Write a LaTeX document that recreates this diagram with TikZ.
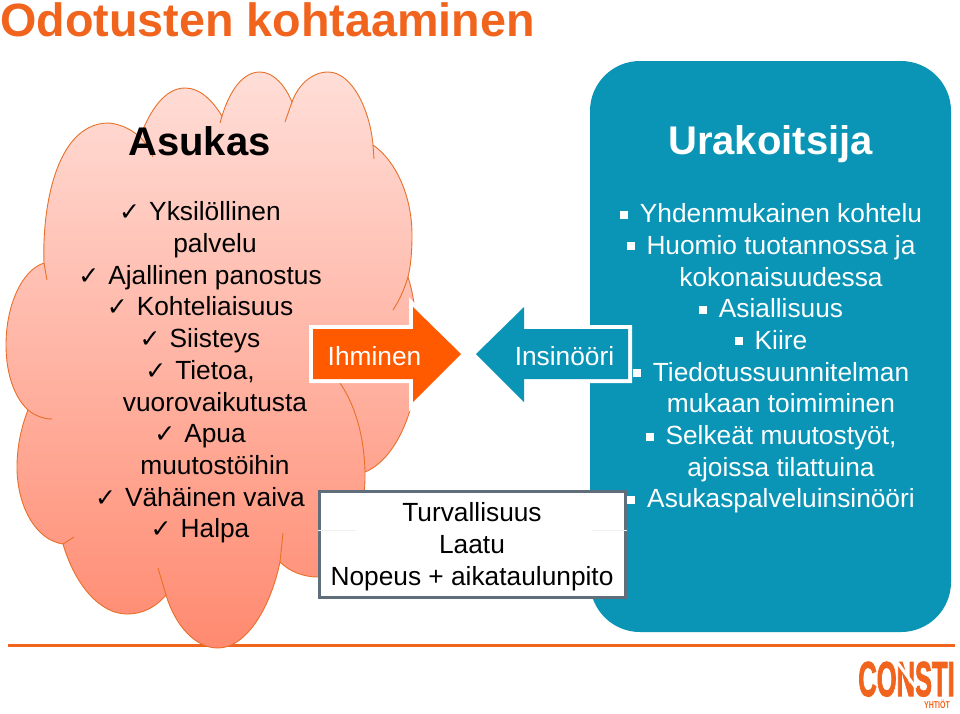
\documentclass[tikz,border=0pt]{standalone}
\usepackage{fontspec}
\setmainfont{Liberation Sans}
\newfontfamily\symfont{DejaVu Sans}
\newfontfamily\logofont[FakeBold=2.5]{Liberation Sans Bold}
\usepackage{xcolor}
\definecolor{rust}{HTML}{F0641E}
\definecolor{flame}{HTML}{FF5A00}
\definecolor{petrol}{HTML}{0A94B6}
\definecolor{slate}{HTML}{5F6E7A}
\definecolor{cloudtop}{HTML}{FFDED8}
\definecolor{cloudbot}{HTML}{FF8A70}
\definecolor{cloudline}{HTML}{E8702A}
\newcommand{\chk}{\makebox[30pt][l]{\symfont\fontsize{25}{25}\selectfont ✓}}
\newcommand{\bul}{\makebox[20pt][l]{\rule[4pt]{8pt}{8pt}}}
\tikzset{
  bodytext/.style={font=\fontsize{26.3}{31.7}\selectfont,align=center,inner sep=0pt},
  headtext/.style={font=\fontsize{40}{44}\selectfont\bfseries,inner sep=0pt},
  cloudedge/.style={draw=cloudline,line width=0.9pt},
  callout/.style={draw=white,line width=8pt,line join=miter},
  framebox/.style={draw=slate,fill=white,line width=3pt,minimum width=306pt,minimum height=106pt,inner sep=0pt}
}
\begin{document}
\begin{tikzpicture}[x=1pt,y=-1pt]
  \useasboundingbox (0,0) rectangle (960,713);
  \node[font=\fontsize{46.7}{50}\selectfont\bfseries,text=rust,anchor=base west,inner sep=0pt] (title) at (0,36) {Odotusten kohtaaminen};
  \fill[rust] (8,643.5) rectangle (955,646.5);
  % blue panel
  \node[fill=petrol,rounded corners=50pt,minimum width=361pt,minimum height=571pt,inner sep=0pt] (panel) at (770.5,346.5) {};
  % cloud outline
  \path[cloudedge,top color=cloudtop,bottom color=cloudbot,middle color=cloudtop!50!cloudbot]
    (28,410) .. controls (15,398) and (6,375) .. (6,345) .. controls (6,305) and (22,270) .. (44,263)
    .. controls (42,210) and (55,125) .. (107,123) .. controls (117,123) and (130,128) .. (140,137)
    .. controls (150,110) and (165,88) .. (185,88) .. controls (200,88) and (212,100) .. (222,116)
    .. controls (230,90) and (243,72) .. (260,72) .. controls (273,72) and (285,85) .. (292,102)
    .. controls (298,85) and (312,72) .. (328,72) .. controls (352,72) and (370,110) .. (373,145)
    .. controls (395,160) and (412,195) .. (412,235) .. controls (412,250) and (411,265) .. (408,277)
    .. controls (414,295) and (418,325) .. (418,355) .. controls (418,410) and (395,460) .. (365,472)
    .. controls (366,510) and (350,577) .. (318,577) .. controls (304,577) and (290,572) .. (280,562)
    .. controls (270,610) and (245,648) .. (218,648) .. controls (195,648) and (175,625) .. (166,595)
    .. controls (155,608) and (142,614) .. (127,614) .. controls (100,614) and (75,585) .. (63,544)
    .. controls (35,540) and (17,505) .. (17,467) .. controls (17,445) and (22,425) .. (28,410) -- cycle;
  % short inner lines of the cloud
  \draw[cloudedge] (28,410) .. controls (34,415) and (43,419) .. (52,419);
  \draw[cloudedge] (44,263) -- (47,280);
  \draw[cloudedge] (140,137) .. controls (145,142) and (150,150) .. (153,157);
  \draw[cloudedge] (222,116) -- (220,123);
  \draw[cloudedge] (292,102) -- (285,122);
  \draw[cloudedge] (373,145) -- (374,159);
  \draw[cloudedge] (408,277) .. controls (404,290) and (399,301) .. (393,310);
  \draw[cloudedge] (340,383) .. controls (355,405) and (364,435) .. (365,472);
  \draw[cloudedge] (283,533) -- (280,562);
  \draw[cloudedge] (158,568) -- (166,595);
  \draw[cloudedge] (74,537) -- (63,544);
  % the two arrows
  \draw[callout] (313,329) -- (413,329) -- (413,307) -- (461,354) -- (413,402) -- (413,379) -- (313,379) -- cycle;
  \fill[flame] (313,329) -- (413,329) -- (413,307) -- (461,354) -- (413,402) -- (413,379) -- (313,379) -- cycle;
  \draw[callout] (628,329) -- (524,329) -- (524,307) -- (476,354) -- (524,402) -- (524,379) -- (628,379) -- cycle;
  \fill[petrol] (628,329) -- (524,329) -- (524,307) -- (476,354) -- (524,402) -- (524,379) -- (628,379) -- cycle;
  \node[bodytext,text=white] (ihminen) at (374.5,356) {Ihminen};
  \node[bodytext,text=white] (insinoori) at (564.5,356) {Insinööri};
  % three goals
  \node[framebox] (goals) at (472,544) {};
  \draw[black!6,line width=0.6pt] (goals.west |- 0,530) -- ++(38,0);
  \draw[black!6,line width=0.6pt] (goals.east |- 0,530) -- ++(-35,0);
  \node[bodytext] (goaltext) at (472,546.5) {Turvallisuus\\Laatu\\Nopeus + aikataulunpito};
  % headings and lists
  \node[headtext] (asukas) at (199.5,141) {Asukas};
  \node[headtext,text=white] (urakoitsija) at (770.5,144) {Urakoitsija};
  \node[bodytext] (wishes) at (200,372.5) {\chk Yksilöllinen\\\hspace*{30pt}palvelu\\\chk Ajallinen panostus\\\chk Kohteliaisuus\\\chk Siisteys\\\chk Tietoa,\\\hspace*{30pt}vuorovaikutusta\\\chk Apua\\\hspace*{30pt}muutostöihin\\\chk Vähäinen vaiva\\\chk Halpa};
  \node[bodytext,text=white] (needs) at (771,358.5) {\bul Yhdenmukainen kohtelu\\\bul Huomio tuotannossa ja\\\hspace*{20pt}kokonaisuudessa\\\bul Asiallisuus\\\bul Kiire\\\bul Tiedotussuunnitelman\\\hspace*{20pt}mukaan toimiminen\\\bul Selkeät muutostyöt,\\\hspace*{20pt}ajoissa tilattuina\\\bul Asukaspalveluinsinööri};
  % logo
  \node[font=\logofont\fontsize{49}{49}\selectfont,text=rust,xscale=0.52,inner sep=0pt,anchor=base] (consti) at (906.5,696) {CONSTI};
  \draw[white,line width=3pt] (897,662) -- (916,688);
  \node[font=\bfseries\fontsize{10}{10}\selectfont,text=rust,xscale=0.7,inner sep=0pt,anchor=base] (yhtiot) at (937,708) {YHTIÖT};
\end{tikzpicture}
\end{document}
